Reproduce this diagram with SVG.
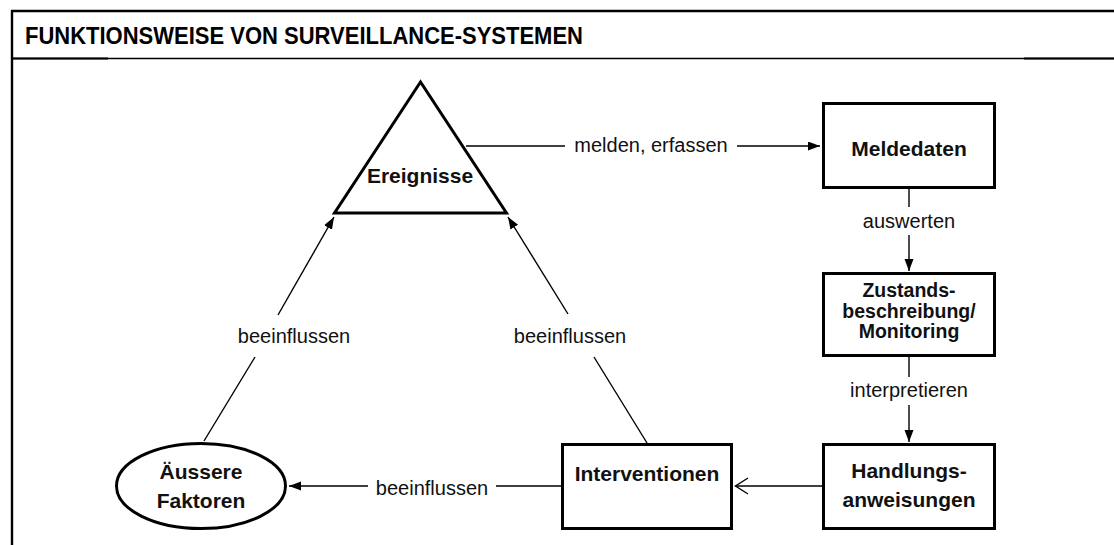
<svg xmlns="http://www.w3.org/2000/svg" width="1114" height="545" viewBox="0 0 1114 545">
  <style>
    .frame { stroke: #000; fill: none; }
    .node { fill: #fff; stroke: #000; stroke-width: 3; }
    .nl { font-family: "Liberation Sans", Arial, sans-serif; font-weight: bold; font-size: 21px; fill: #111; text-anchor: middle; }
    .nls { font-size: 19.5px; }
    .lbl { font-family: "Liberation Sans", Arial, sans-serif; font-size: 20px; fill: #111; text-anchor: middle; }
    .con { stroke: #000; stroke-width: 1.4; fill: none; }
    .title { font-family: "Liberation Sans", Arial, sans-serif; font-weight: bold; font-size: 24px; fill: #000; }
  </style>
  <defs>
    <marker id="arr" markerUnits="userSpaceOnUse" markerWidth="13" markerHeight="10" refX="12" refY="4.5" orient="auto">
      <path d="M0,0 L12,4.5 L0,9 z" fill="#000"/>
    </marker>
  </defs>
  <rect x="0" y="0" width="1114" height="545" fill="#fff"/>

  <g id="frame">
    <line class="frame" x1="11" y1="11" x2="1114" y2="11" stroke-width="2.4"/>
    <line class="frame" x1="12" y1="10" x2="12" y2="545" stroke-width="2.4"/>
    <line class="frame" x1="12" y1="58.5" x2="1114" y2="58.5" stroke-width="1.3"/>
    <line class="frame" x1="12" y1="58.5" x2="108" y2="58.5" stroke-width="2.2"/>
    <line class="frame" x1="1024" y1="58.5" x2="1114" y2="58.5" stroke-width="2.2"/>
    <text class="title" x="25" y="44" textLength="558" lengthAdjust="spacingAndGlyphs">FUNKTIONSWEISE VON SURVEILLANCE-SYSTEMEN</text>
  </g>

  <g id="connectors">
    <line class="con" x1="466" y1="146" x2="565" y2="146"/>
    <line class="con" x1="737" y1="146" x2="820" y2="146" marker-end="url(#arr)"/>
    <text class="lbl" x="651" y="152">melden, erfassen</text>

    <line class="con" x1="909" y1="189" x2="909" y2="207"/>
    <line class="con" x1="909" y1="235" x2="909" y2="271" marker-end="url(#arr)"/>
    <text class="lbl" x="909" y="228">auswerten</text>

    <line class="con" x1="909" y1="357" x2="909" y2="377"/>
    <line class="con" x1="909" y1="405" x2="909" y2="442" marker-end="url(#arr)"/>
    <text class="lbl" x="909" y="397">interpretieren</text>

    <line class="con" x1="822" y1="486" x2="735.5" y2="486"/>
    <polyline class="con" points="748,478 735.5,486 748,494"/>

    <line class="con" x1="561" y1="486" x2="496" y2="486"/>
    <line class="con" x1="368" y1="486" x2="289" y2="486" marker-end="url(#arr)"/>
    <text class="lbl" x="432" y="495">beeinflussen</text>

    <line class="con" x1="204" y1="441" x2="255" y2="357"/>
    <line class="con" x1="278" y1="315" x2="334" y2="217" marker-end="url(#arr)"/>
    <text class="lbl" x="294" y="343">beeinflussen</text>

    <line class="con" x1="647" y1="443" x2="594" y2="357"/>
    <line class="con" x1="568" y1="314" x2="508" y2="217" marker-end="url(#arr)"/>
    <text class="lbl" x="570" y="343">beeinflussen</text>
  </g>

  <g id="ereignisse">
    <polygon class="node" points="420.5,82 334.5,213 506.5,213"/>
    <text class="nl" x="420" y="183">Ereignisse</text>
  </g>

  <g id="meldedaten">
    <rect class="node" x="823.5" y="103.5" width="171" height="84"/>
    <text class="nl" x="909" y="156">Meldedaten</text>
  </g>

  <g id="zustandsbeschreibung">
    <rect class="node" x="823.5" y="273.5" width="171" height="82"/>
    <text class="nl nls" x="909" y="297">Zustands-</text>
    <text class="nl nls" x="909" y="317.5">beschreibung/</text>
    <text class="nl nls" x="909" y="338">Monitoring</text>
  </g>

  <g id="handlungsanweisungen">
    <rect class="node" x="823.5" y="444.5" width="171" height="84"/>
    <text class="nl" x="909" y="478">Handlungs-</text>
    <text class="nl" x="909" y="507">anweisungen</text>
  </g>

  <g id="interventionen">
    <rect class="node" x="562.5" y="444.5" width="169" height="84"/>
    <text class="nl" x="647" y="481">Interventionen</text>
  </g>

  <g id="aeussere-faktoren">
    <ellipse class="node" cx="201" cy="486" rx="84.5" ry="42.5"/>
    <text class="nl" x="201" y="479">Äussere</text>
    <text class="nl" x="201" y="508">Faktoren</text>
  </g>
</svg>
